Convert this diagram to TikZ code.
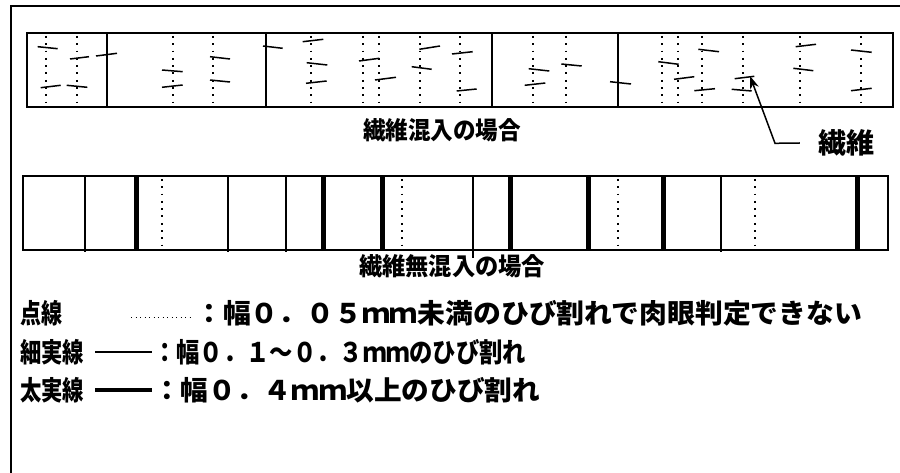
\documentclass[tikz,border=0pt]{standalone}
\usepackage{fontspec}
\usepackage{graphicx}
\newfontfamily\jp{Noto Sans CJK JP}
\usetikzlibrary{arrows.meta}
\newcommand{\xfit}[2]{\resizebox{#1}{\height}{#2}}
\tikzset{
  frame/.style={line width=1.6pt},
  box/.style={line width=2.4pt},
  thinline/.style={line width=1.5pt},
  thickline/.style={line width=5pt},
  dotline/.style={line width=1.8pt, dash pattern=on 1.8pt off 5.5pt},
  fiber/.style={line width=1.5pt},
  lbl/.style={inner sep=0pt, font=\jp\bfseries\fontsize{24.5}{26}\selectfont},
  legend/.style={inner sep=0pt, anchor=west, font=\jp\bfseries\fontsize{27}{29}\selectfont},
}
\begin{document}
\begin{tikzpicture}[x=1pt,y=-1pt]
\useasboundingbox (0,0) rectangle (900,473);
% outer frame (top and left only)
\draw[frame] (11,473) -- (11,6) -- (900,6);
% ---------- top box ----------
\draw[box] (27,33) rectangle (893,107);
\foreach \x in {107,266,492,618} \draw[thinline] (\x,33) -- (\x,107);
\foreach \x in {46,77,173,213,311,363,379,420,460,533,566,662,678,702,743,800,861}
  \draw[dotline] (\x,36) -- (\x,107);
\foreach \a/\b/\c/\d in {37.7/46.7/57.7/48.7, 70/59/89/56.7, 96/56/117/53.3, 40.7/87.7/60.7/85.3,
  66.7/85.3/87.3/87.3, 162/70/182.7/71.7, 162/87.3/182.7/85, 210/56.7/230/59, 210/80/230/82,
  263/46/282.7/48.3, 302.7/41.7/323.3/39.3, 306.7/62.7/327.3/65, 306/83.3/326.7/81,
  359/61/379.3/58.3, 375/80/396/77.3, 419.3/49.3/440/46, 411.7/66.7/431.7/69.3,
  452/54/472.7/51.7, 456.7/91/476.7/89, 528.7/68.7/549.3/71, 524.7/85.3/545.3/83,
  561.3/64/581.7/66, 610/81.7/631/84, 658.3/61.7/678.7/64.3, 674/79.3/694.3/76.7,
  698.3/49.3/719/51.7, 694.3/90.7/715/88.7, 734.7/78.7/754.3/76.3, 731.7/89.3/751.7/91,
  795.7/46.7/816/44.3, 793.3/68.3/813.3/70.7, 851/50/871.7/52.3, 851/90.7/871.7/88.3}
  \draw[fiber] (\a,\b) -- (\c,\d);
\node[lbl] (cap1) at (442,130) {\xfit{158pt}{繊維混入の場合}};
\node[lbl, font=\jp\bfseries\fontsize{28}{30}\selectfont] (fib) at (846,143) {\xfit{56pt}{繊維}};
\coordinate (tip) at (750,76);
\coordinate (bend) at (775,143.3);
\draw[line width=1.5pt, -{Stealth[length=13pt,width=9pt]}] ([xshift=-18pt]fib.west) -- (bend) -- (tip);
% ---------- bottom box ----------
\draw[box] (23,176) rectangle (888,250);
\foreach \x in {85,228,286,721} \draw[thinline] (\x,176) -- (\x,252);
\draw[thinline] (473,176) -- (473,258);
\foreach \x in {136,323,382,510,588,663,857} \draw[thickline] (\x,176) -- (\x,250);
\foreach \x in {162,402,618,755} \draw[dotline] (\x,179) -- (\x,250);
\node[lbl] (cap2) at (452,266) {\xfit{186pt}{繊維無混入の場合}};
% ---------- legend ----------
\node[legend] (k1) at (20,313) {\xfit{42pt}{点線}};
\node[legend] (k2) at (20,352) {\xfit{64pt}{細実線}};
\node[legend] (k3) at (20,390) {\xfit{64pt}{太実線}};
\coordinate (d1a) at (131,317); \coordinate (d1b) at (192,317);
\draw[line width=1pt, dash pattern=on 1pt off 3.5pt] (d1a) -- (d1b);
\coordinate (d2a) at (95,352); \coordinate (d2b) at (152,352);
\draw[line width=1.2pt] (d2a) -- (d2b);
\coordinate (d3a) at (95,390); \coordinate (d3b) at (152,390);
\draw[line width=4.5pt] (d3a) -- (d3b);
\node[legend] (t1) at (195,313) {\xfit{667pt}{：幅０．０５ｍｍ未満のひび割れで肉眼判定できない}};
\node[legend] (t2) at (153,352) {\xfit{373pt}{：幅０．１～０．３ｍｍのひび割れ}};
\node[legend] (t3) at (153,390) {\xfit{387pt}{：幅０．４ｍｍ以上のひび割れ}};
\end{tikzpicture}
\end{document}
